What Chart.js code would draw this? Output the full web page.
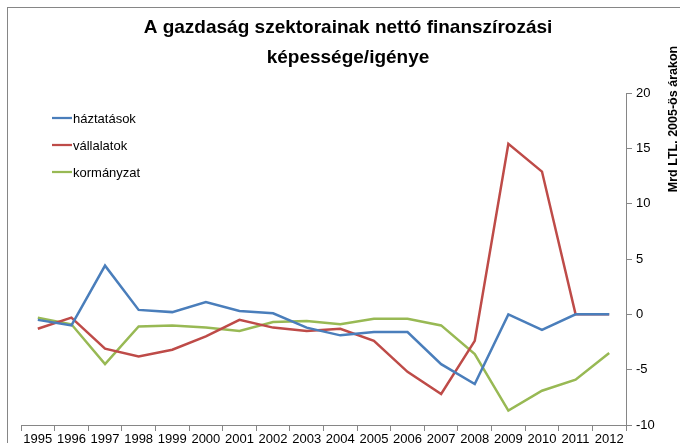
<!DOCTYPE html>
<html>
<head>
<meta charset="utf-8">
<script src="https://cdn.jsdelivr.net/npm/chart.js@4.4.1/dist/chart.umd.min.js"></script>
<style>
  html, body { margin: 0; padding: 0; background: #fff; }
  #wrap { width: 680px; height: 443px; position: relative; overflow: hidden; }
</style>
</head>
<body>
<div id="wrap"><canvas id="chart" width="680" height="443"></canvas></div>
<script>
const years = ['1995','1996','1997','1998','1999','2000','2001','2002','2003',
               '2004','2005','2006','2007','2008','2009','2010','2011','2012'];

// Mrd LTL, 2005-ös árakon
const haztartasok = [-0.5, -1.0, 4.4, 0.4, 0.2, 1.1, 0.3, 0.1, -1.2, -1.9, -1.6, -1.6, -4.5, -6.3, 0.0, -1.4, 0.0, 0.0];
const vallalatok  = [-1.3, -0.3, -3.1, -3.8, -3.2, -2.0, -0.5, -1.2, -1.5, -1.3, -2.4, -5.2, -7.2, -2.4, 15.4, 12.9, 0.0, 0.0];
const kormanyzat  = [-0.3, -0.9, -4.5, -1.1, -1.0, -1.2, -1.5, -0.7, -0.6, -0.9, -0.4, -0.4, -1.0, -3.6, -8.7, -6.9, -5.9, -3.5];

const yTicks = [-10, -5, 0, 5, 10, 15, 20];

const FONT = '"Liberation Sans", Arial, sans-serif';
const AXIS_GREY = '#868686';

// border, title, inner legend and rotated axis title
const decorations = {
  id: 'decorations',
  beforeDraw(chart) {
    const ctx = chart.ctx;
    ctx.save();
    ctx.strokeStyle = AXIS_GREY;
    ctx.lineWidth = 1;
    ctx.strokeRect(7.5, 7.5, 720, 480);
    ctx.restore();
  },
  afterDraw(chart) {
    const ctx = chart.ctx;
    ctx.save();
    ctx.fillStyle = '#000';
    ctx.textAlign = 'center';
    ctx.textBaseline = 'middle';
    ctx.font = 'bold 19px ' + FONT;
    ctx.fillText('A gazdaság szektorainak nettó finanszírozási', 348, 28);
    ctx.fillText('képessége/igénye', 348, 58);

    // legend inside the plot
    ctx.font = '13px ' + FONT;
    ctx.textAlign = 'left';
    const ly = [118, 145, 172];
    chart.data.datasets.forEach((ds, i) => {
      ctx.strokeStyle = ds.borderColor;
      ctx.lineWidth = 2.25;
      ctx.beginPath();
      ctx.moveTo(52, ly[i]);
      ctx.lineTo(72, ly[i]);
      ctx.stroke();
      ctx.fillStyle = '#000';
      ctx.fillText(ds.label, 73, ly[i] + 1);
    });

    // right axis title
    ctx.translate(674, 119);
    ctx.rotate(-Math.PI / 2);
    ctx.textAlign = 'center';
    ctx.font = 'bold 12.5px ' + FONT;
    ctx.fillText('Mrd LTL. 2005-ös árakon', 0, 0);
    ctx.restore();
  }
};

new Chart(document.getElementById('chart'), {
  type: 'line',
  data: {
    labels: years,
    datasets: [
      { label: 'háztatások', data: haztartasok, borderColor: '#4A7EBB' },
      { label: 'vállalatok', data: vallalatok, borderColor: '#BE4B48' },
      { label: 'kormányzat', data: kormanyzat, borderColor: '#98B954' }
    ].map(d => Object.assign(d, { borderWidth: 2.5, pointRadius: 0, tension: 0, fill: false }))
  },
  options: {
    responsive: false,
    animation: false,
    layout: { padding: { left: 21, top: 93, right: 0, bottom: 0 } },
    plugins: { legend: { display: false }, title: { display: false }, tooltip: { enabled: false } },
    scales: {
      x: {
        offset: true,
        border: { color: AXIS_GREY, width: 1 },
        grid: { drawOnChartArea: false, color: AXIS_GREY, tickLength: 6, offset: true },
        ticks: { color: '#000', font: { family: FONT, size: 13 }, autoSkip: false, maxRotation: 0, padding: 1 },
        afterFit(scale) { scale.height = 18; }
      },
      y: {
        position: 'right',
        min: -10,
        max: 20,
        afterBuildTicks(scale) { scale.ticks = yTicks.map(v => ({ value: v })); },
        border: { color: AXIS_GREY, width: 1 },
        grid: { drawOnChartArea: false, color: AXIS_GREY, tickLength: 6 },
        ticks: { color: '#000', font: { family: FONT, size: 13 }, padding: 4 },
        afterFit(scale) { scale.width = 54; }
      }
    }
  },
  plugins: [decorations]
});
</script>
</body>
</html>
